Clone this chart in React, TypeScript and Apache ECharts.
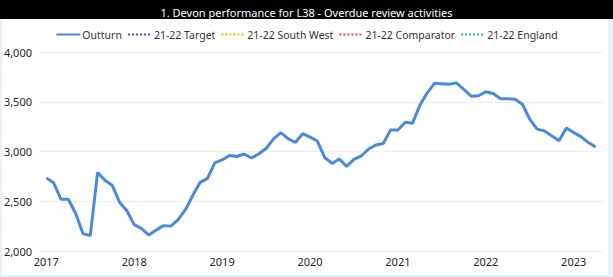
import React, { useEffect, useRef } from "react";
import * as echarts from "echarts";

const titleText = "1. Devon performance for L38 - Overdue review activities";
const seriesNames = ["Outturn", "21-22 Target", "21-22 South West", "21-22 Comparator", "21-22 England"];
const seriesColors = ["#4a8ad9", "#3d4f9f", "#f2b705", "#e8444c", "#2bb38c"];

// Monthly outturn, Jan 2017 .. Apr 2023
const outturn = [
  2735, 2685, 2520, 2520, 2380, 2175, 2155, 2790, 2710, 2660, 2490, 2405,
  2265, 2225, 2160, 2210, 2255, 2250, 2315, 2415, 2560, 2690, 2730, 2885,
  2915, 2960, 2950, 2975, 2935, 2975, 3030, 3125, 3190, 3130, 3090, 3180,
  3145, 3105, 2940, 2880, 2925, 2850, 2920, 2955, 3025, 3065, 3080, 3215,
  3215, 3295, 3285, 3465, 3590, 3685, 3680, 3675, 3690, 3625, 3555, 3560,
  3600, 3583, 3530, 3530, 3525, 3475, 3325, 3225, 3207, 3157, 3107, 3235,
  3190, 3150, 3090, 3045,
];
const yearLabels = ["2017", "2018", "2019", "2020", "2021", "2022", "2023"];
const yearTickIndex = [0, 12, 24, 36, 48, 60, 72];

const FONT = "'Noto Sans', 'Open Sans', sans-serif";

export default function App() {
  const ref = useRef<HTMLDivElement>(null);
  useEffect(() => {
    if (!ref.current) return;
    const chart = echarts.init(ref.current, null, { renderer: "svg" });
    const series: any[] = seriesNames.map((name, k) => ({
      name,
      type: "line",
      symbol: "none",
      data: k === 0 ? outturn.map((v, i) => [i, v]) : [],
      lineStyle: {
        color: seriesColors[k],
        width: k === 0 ? 3 : 2,
        type: k === 0 ? "solid" : "dotted",
      },
      itemStyle: { color: seriesColors[k] },
    }));
    chart.setOption({
      animation: false,
      backgroundColor: "transparent",
      textStyle: { fontFamily: FONT },
      title: {
        text: titleText,
        left: "center",
        top: 2,
        textStyle: { color: "#ffffff", fontSize: 11, fontWeight: "normal", fontFamily: FONT },
      },
      legend: {
        top: 24,
        left: "center",
        itemWidth: 24,
        itemHeight: 10,
        itemGap: 5,
        itemStyle: { opacity: 0 },
        textStyle: { fontSize: 10.5, color: "#333333", fontFamily: FONT, padding: [0, 0, 0, -3] },
        data: seriesNames,
      },
      grid: { left: 39, right: 10, top: 52, bottom: 26 },
      xAxis: {
        type: "value",
        min: -1,
        max: 76,
        axisLine: { show: false },
        axisTick: { show: false },
        splitLine: { show: false },
        axisLabel: {
          customValues: yearTickIndex,
          formatter: (v: number) => yearLabels[yearTickIndex.indexOf(Math.round(v))] ?? "",
          color: "#252423",
          fontSize: 11,
          margin: 5,
          fontFamily: FONT,
        },
      },
      yAxis: {
        type: "value",
        min: 2000,
        max: 4000,
        interval: 500,
        axisLine: { show: false },
        axisTick: { show: false },
        splitLine: { lineStyle: { color: "#eeeeee", width: 1 } },
        axisLabel: {
          formatter: (v: number) => v.toLocaleString("en-US"),
          color: "#252423",
          fontSize: 11,
          margin: 7,
          fontFamily: FONT,
        },
      },
      series,
    });
    return () => chart.dispose();
  }, []);

  return (
    <div style={{ position: "absolute", left: 0, top: 0, width: 613, height: 277, background: "#e9f2fb", overflow: "hidden" }}>
      <div style={{ position: "absolute", left: 2, top: 19, width: 606, height: 256, background: "#ffffff" }} />
      <div style={{ position: "absolute", left: 0, top: 0, width: 613, height: 19, background: "#000000" }} />
      <div ref={ref} style={{ position: "absolute", left: 0, top: 0, width: 613, height: 277 }} />
    </div>
  );
}
